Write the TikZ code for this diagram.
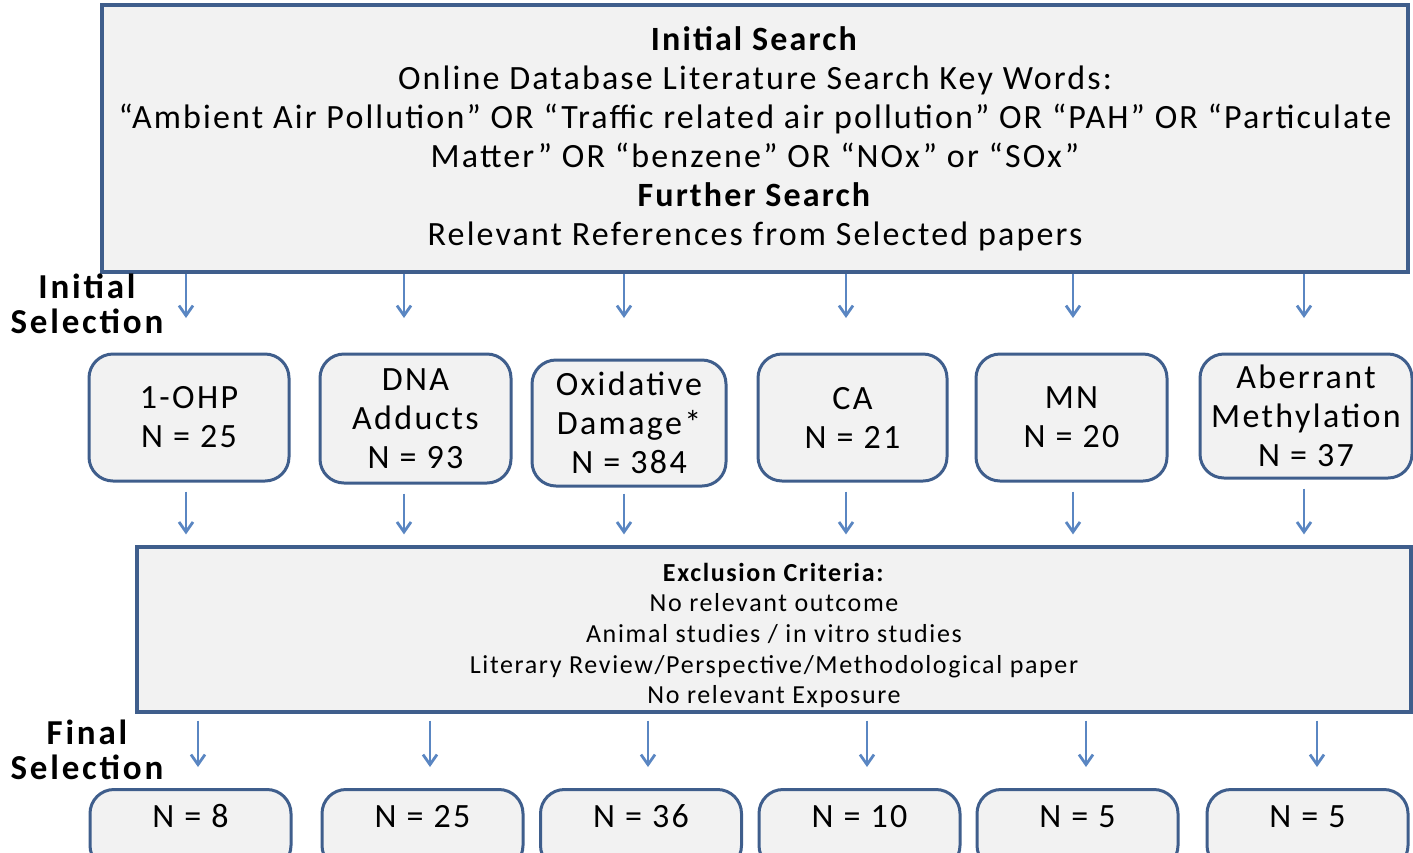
\documentclass[tikz,border=0pt]{standalone}
\usepackage{fontspec}
\setmainfont{Carlito}
\newfontfamily\spacedfont[LetterSpace=7]{Carlito}
\newfontfamily\widefont[LetterSpace=6.3]{Carlito}
\newfontfamily\stagefont[LetterSpace=8]{Carlito}
\usetikzlibrary{arrows.meta}
\definecolor{boxline}{HTML}{3F5E8C}
\definecolor{boxfill}{HTML}{F2F2F2}
\definecolor{arrowblue}{HTML}{5A86C2}

\begin{document}
\begin{tikzpicture}[x=0.5pt,y=-0.5pt]
        \tikzstyle{searchbox}=[draw=boxline,line width=1.6pt,fill=boxfill,align=center,inner sep=0pt]
        \tikzstyle{markerbox}=[draw=boxline,line width=1.5pt,fill=boxfill,rounded corners=12pt,align=center,inner sep=0pt,font=\spacedfont\fontsize{17}{19.5}\selectfont]
        \tikzstyle{finalbox}=[markerbox,anchor=north,minimum width=100.5pt,text height=19pt,text depth=21pt]
        \tikzstyle{stage}=[align=center,font=\stagefont\bfseries\fontsize{17.5}{17.5}\selectfont]
        \tikzstyle{flow}=[draw=arrowblue,line width=1.4pt,-{Straight Barb[length=5pt,width=7pt]}]
        \useasboundingbox (0,0) rectangle (1413,852);
        \clip (0,0) rectangle (1413,852);

         % search
         \node [searchbox,minimum width=653pt,minimum height=133.5pt,font=\widefont\fontsize{17}{19.5}\selectfont] (search) at (755,138.5)
           {\textbf{Initial Search}\\Online Database Literature Search Key Words:\\“Ambient Air Pollution” OR “Traffic related air pollution” OR “PAH” OR “Particulate\\Matter” OR “benzene” OR “NOx” or “SOx”\\\textbf{Further Search}\\Relevant References from Selected papers};

         \node [stage] (initsel) at (87,304) {Initial\\Selection};
         \node [stage] (finsel) at (87,750) {Final\\Selection};

         % initial selection
         \node [markerbox,minimum width=100pt,minimum height=63.5pt] (ohp) at (189,417.5) {1-OHP\\N = 25};
         \node [markerbox,minimum width=95.5pt,minimum height=64.5pt] (dna) at (415.5,418.5) {DNA\\Adducts\\N = 93};
         \node [markerbox,minimum width=97pt,minimum height=63pt] (oxd) at (629,423) {Oxidative\\Damage*\\N = 384};
         \node [markerbox,minimum width=94.5pt,minimum height=63.5pt] (ca) at (852.5,417.5) {CA\\N = 21};
         \node [markerbox,minimum width=95.5pt,minimum height=63.5pt] (mn) at (1071.5,417.5) {MN\\N = 20};
         \node [markerbox,minimum width=106pt,minimum height=62pt] (abm) at (1306,416) {Aberrant\\Methylation\\N = 37};

         % exclusion
         \node [searchbox,minimum width=637pt,minimum height=82.5pt,font=\widefont\fontsize{13}{15.3}\selectfont] (excl) at (774,629.5)
           {\rule{0pt}{15pt}\textbf{Exclusion Criteria:}\\No relevant outcome\\Animal studies / in vitro studies\\Literary Review/Perspective/Methodological paper\\No relevant Exposure};

         % final selection
         \node [finalbox] (fohp) at (190.5,788) {N = 8};
         \node [finalbox] (fdna) at (422.5,788) {N = 25};
         \node [finalbox] (foxd) at (641,788) {N = 36};
         \node [finalbox] (fca) at (859.5,788) {N = 10};
         \node [finalbox] (fmn) at (1077.5,788) {N = 5};
         \node [finalbox] (fabm) at (1307.5,788) {N = 5};

         \coordinate (a1) at (186,318);
         \coordinate (a2) at (404,318);
         \coordinate (a3) at (624,318);
         \coordinate (a4) at (846,318);
         \coordinate (a5) at (1073,318);
         \coordinate (a6) at (1304,318);
         \coordinate (c1) at (198,767);
         \coordinate (c2) at (430,767);
         \coordinate (c3) at (648,767);
         \coordinate (c4) at (867,767);
         \coordinate (c5) at (1086,767);
         \coordinate (c6) at (1317,767);

         \draw[flow] (search.south -| a1) -- (a1);
         \draw[flow] (search.south -| a2) -- (a2);
         \draw[flow] (search.south -| a3) -- (a3);
         \draw[flow] (search.south -| a4) -- (a4);
         \draw[flow] (search.south -| a5) -- (a5);
         \draw[flow] (search.south -| a6) -- (a6);

         \draw[flow,shorten <=4.5pt,shorten >=5.5pt] (ohp.south -| a1) -- (excl.north -| a1);
         \draw[flow,shorten <=4.5pt,shorten >=5.5pt] (dna.south -| a2) -- (excl.north -| a2);
         \draw[flow,shorten <=3pt,shorten >=5.5pt] (oxd.south -| a3) -- (excl.north -| a3);
         \draw[flow,shorten <=4.5pt,shorten >=5.5pt] (ca.south -| a4) -- (excl.north -| a4);
         \draw[flow,shorten <=4.5pt,shorten >=5.5pt] (mn.south -| a5) -- (excl.north -| a5);
         \draw[flow,shorten <=4.5pt,shorten >=5.5pt] (abm.south -| a6) -- (excl.north -| a6);

         \draw[flow,shorten <=3.5pt] (excl.south -| c1) -- (c1);
         \draw[flow,shorten <=3.5pt] (excl.south -| c2) -- (c2);
         \draw[flow,shorten <=3.5pt] (excl.south -| c3) -- (c3);
         \draw[flow,shorten <=3.5pt] (excl.south -| c4) -- (c4);
         \draw[flow,shorten <=3.5pt] (excl.south -| c5) -- (c5);
         \draw[flow,shorten <=3.5pt] (excl.south -| c6) -- (c6);
\end{tikzpicture}
\end{document}
